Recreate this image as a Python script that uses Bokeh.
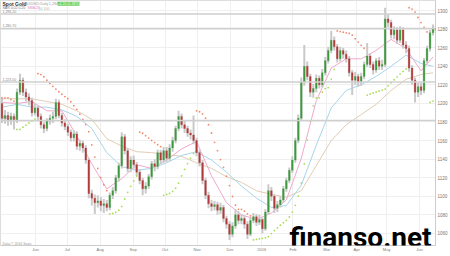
from bokeh.plotting import figure
from bokeh.models import FixedTicker, Label, Span, Range1d
from bokeh.embed import file_html
from bokeh.resources import INLINE

# ---------------- data (Spot Gold, daily, May 2015 - Jun 2016) ----------------
first_open = 1200
closes = [1184, 1187, 1182, 1186, 1182, 1212, 1225, 1212, 1207, 1203,
          1190, 1195, 1186, 1177, 1173, 1181, 1184, 1186, 1201, 1187,
          1179, 1175, 1169, 1163, 1167, 1154, 1157, 1152, 1139, 1103,
          1098, 1093, 1095, 1090, 1092, 1088, 1101, 1106, 1120, 1133,
          1164, 1149, 1130, 1139, 1134, 1126, 1117, 1108, 1111, 1121,
          1135, 1132, 1147, 1139, 1149, 1141, 1152, 1160, 1173, 1186,
          1177, 1173, 1168, 1166, 1160, 1147, 1136, 1117, 1101, 1092,
          1089, 1091, 1085, 1088, 1076, 1070, 1059, 1068, 1080, 1074,
          1076, 1070, 1059, 1074, 1078, 1072, 1075, 1065, 1083, 1106,
          1100, 1087, 1091, 1096, 1108, 1117, 1128, 1139, 1160, 1184,
          1223, 1240, 1229, 1212, 1216, 1227, 1220, 1233, 1246, 1257,
          1268, 1261, 1248, 1257, 1253, 1248, 1233, 1225, 1229, 1223,
          1229, 1242, 1251, 1242, 1236, 1246, 1240, 1242, 1291, 1287,
          1274, 1279, 1268, 1279, 1263, 1259, 1238, 1225, 1212, 1218,
          1214, 1246, 1259, 1276, 1281]
highs = [1206, 1193, 1191, 1190, 1189, 1216, 1232, 1228, 1216, 1211,
         1206, 1200, 1198, 1189, 1180, 1184, 1188, 1191, 1205, 1204,
         1190, 1183, 1178, 1172, 1171, 1170, 1161, 1160, 1155, 1141,
         1107, 1102, 1101, 1099, 1097, 1096, 1104, 1110, 1123, 1136,
         1169, 1167, 1152, 1143, 1144, 1137, 1129, 1120, 1115, 1124,
         1138, 1140, 1150, 1150, 1153, 1153, 1156, 1164, 1176, 1192,
         1189, 1181, 1176, 1172, 1187, 1163, 1150, 1139, 1120, 1105,
         1096, 1095, 1094, 1093, 1091, 1079, 1073, 1072, 1086, 1084,
         1081, 1079, 1073, 1077, 1082, 1081, 1080, 1077, 1086, 1113,
         1110, 1102, 1095, 1100, 1111, 1120, 1131, 1143, 1163, 1188,
         1228, 1263, 1245, 1232, 1221, 1231, 1230, 1237, 1250, 1261,
         1278, 1272, 1264, 1261, 1260, 1257, 1251, 1236, 1234, 1232,
         1233, 1245, 1265, 1254, 1245, 1249, 1250, 1247, 1303, 1296,
         1290, 1283, 1282, 1283, 1282, 1267, 1262, 1241, 1228, 1222,
         1222, 1249, 1262, 1279, 1285]
lows = [1179, 1178, 1176, 1177, 1172, 1179, 1209, 1208, 1202, 1198,
        1186, 1187, 1182, 1173, 1168, 1170, 1177, 1179, 1183, 1184,
        1175, 1171, 1165, 1159, 1159, 1150, 1149, 1147, 1135, 1098,
        1090, 1081, 1088, 1084, 1082, 1084, 1085, 1097, 1103, 1116,
        1130, 1145, 1126, 1126, 1130, 1122, 1113, 1101, 1103, 1108,
        1118, 1127, 1129, 1135, 1136, 1137, 1138, 1148, 1157, 1170,
        1173, 1168, 1164, 1161, 1156, 1143, 1132, 1113, 1097, 1087,
        1084, 1085, 1080, 1081, 1072, 1065, 1053, 1056, 1065, 1070,
        1070, 1065, 1054, 1057, 1071, 1068, 1069, 1060, 1063, 1080,
        1095, 1082, 1083, 1088, 1093, 1105, 1114, 1125, 1136, 1157,
        1181, 1219, 1225, 1207, 1206, 1212, 1216, 1217, 1230, 1243,
        1254, 1257, 1244, 1245, 1248, 1244, 1229, 1209, 1220, 1218,
        1219, 1226, 1239, 1238, 1231, 1233, 1236, 1236, 1239, 1282,
        1270, 1269, 1264, 1265, 1259, 1254, 1234, 1220, 1201, 1207,
        1209, 1211, 1243, 1256, 1273]

ma_idx = [0, 5, 10, 15, 20, 25, 30, 35, 40, 45, 50, 55, 60, 65, 70,
          75, 80, 85, 90, 95, 100, 105, 110, 115, 120, 125, 130, 135, 140, 144]
sma20 = [1201, 1200, 1202, 1192, 1192, 1165, 1135, 1108, 1119, 1134, 1130, 1139, 1151, 1159, 1122,
         1093, 1080, 1075, 1082, 1096, 1141, 1203, 1238, 1248, 1248, 1257, 1269, 1259, 1235, 1250]
sma50 = [1196, 1199, 1196, 1196, 1193, 1186, 1173, 1147, 1132, 1128, 1130, 1136, 1144, 1148, 1139,
         1126, 1111, 1098, 1088, 1090, 1112, 1155, 1195, 1214, 1220, 1229, 1240, 1252, 1243, 1240]
sma100 = [1205, 1205, 1205, 1202, 1199, 1192, 1183, 1162, 1154, 1148, 1147, 1145, 1143, 1136, 1130,
          1121, 1115, 1106, 1102, 1099, 1106, 1133, 1160, 1177, 1188, 1199, 1214, 1226, 1231, 1233]

levels = [1296.2, 1280.7, 1223.0, 1181.6]
level_labels = ["1,296.20", "1,280.70", "1,223.00", "1,181.60"]

price_ticks = [1060, 1080, 1100, 1120, 1140, 1160, 1180, 1200, 1220, 1240, 1260, 1280, 1300]
month_pos = [11.2, 21.8, 32.8, 43.8, 54.5, 65.2, 76.2, 86.8, 97.2, 108.5, 118.5, 128.5, 139.5]
month_labels = ["Jun", "Jul", "Aug", "Sep", "Oct", "Nov", "Dec", "2016", "Feb", "Mar", "Apr", "May", "Jun"]

# ---------------- derived ----------------
n = len(closes)
idx = list(range(n))
opens = [first_open] + closes[:-1]
body_top = [max(o, c) for o, c in zip(opens, closes)]
body_bot = [min(o, c) for o, c in zip(opens, closes)]
body_col = ["#3c9a3c" if c >= o else "#b23b3b" for o, c in zip(opens, closes)]


def parabolic_sar(h, l, step=0.02, amax=0.2):
    out, trend = [h[0]], [False]
    bull, af, ep, s = False, step, l[0], h[0]
    for i in range(1, len(h)):
        s = s + af * (ep - s)
        if bull:
            s = min(s, l[i - 1], l[max(i - 2, 0)])
            if l[i] < s:
                bull, s, ep, af = False, ep, l[i], step
            elif h[i] > ep:
                ep, af = h[i], min(af + step, amax)
        else:
            s = max(s, h[i - 1], h[max(i - 2, 0)])
            if h[i] > s:
                bull, s, ep, af = True, ep, h[i], step
            elif l[i] < ep:
                ep, af = l[i], min(af + step, amax)
        out.append(s)
        trend.append(bull)
    return out, trend


sar, sar_bull = parabolic_sar(highs, lows)

# ---------------- figure ----------------
FW, FH = 436, 245
Y_TOP, Y_BOT = 1310.8, 1047.0

p = figure(width=450, height=256, output_backend="svg", toolbar_location=None,
           x_range=Range1d(-0.5, 144.83), y_range=Range1d(Y_BOT, Y_TOP),
           y_axis_location="right",
           min_border_left=0, min_border_top=0, min_border_right=14, min_border_bottom=11)
p.outline_line_color = "#dddddd"
p.background_fill_color = "white"

p.yaxis.ticker = FixedTicker(ticks=price_ticks)
p.yaxis.major_label_text_font_size = "4.5px"
p.yaxis.major_label_text_color = "#777777"
p.yaxis.major_tick_out = 0
p.yaxis.major_tick_in = 0
p.yaxis.minor_tick_out = 0
p.yaxis.minor_tick_in = 0
p.yaxis.major_label_standoff = 2
p.yaxis.axis_line_color = "#cccccc"

p.xaxis.ticker = FixedTicker(ticks=month_pos)
p.xaxis.major_label_overrides = {m: t for m, t in zip(month_pos, month_labels)}
p.xaxis.major_label_text_font_size = "4px"
p.xaxis.major_label_text_color = "#777777"
p.xaxis.major_tick_out = 0
p.xaxis.major_tick_in = 0
p.xaxis.minor_tick_out = 0
p.xaxis.minor_tick_in = 0
p.xaxis.major_label_standoff = 1
p.xaxis.axis_line_color = "#cccccc"

p.xgrid.ticker = FixedTicker(ticks=month_pos)
p.ygrid.ticker = FixedTicker(ticks=price_ticks)
p.xgrid.grid_line_color = "#efefef"
p.ygrid.grid_line_color = "#efefef"

# level lines
for lv in levels:
    p.add_layout(Span(location=lv, dimension="width", line_color="#cfcfcf", line_width=1.6))

# moving averages
p.line(ma_idx, sma100, line_color="#e0cdb4", line_width=1)
p.line(ma_idx, sma50, line_color="#a6d5ea", line_width=1)
p.line(ma_idx, sma20, line_color="#f0a8cc", line_width=1)

# candles
p.segment(x0=idx, y0=lows, x1=idx, y1=highs, line_color="#c9c9c9", line_width=2)
p.vbar(x=idx, width=0.55, top=body_top, bottom=body_bot, fill_color=body_col, line_color=body_col,
       line_width=0.3)

# parabolic SAR
sx_bull = [i for i in idx if sar_bull[i]]
sx_bear = [i for i in idx if not sar_bull[i]]
p.scatter(sx_bull, [sar[i] for i in sx_bull], size=1.8, marker="circle",
          fill_color="#a8dd55", line_color=None)
p.scatter(sx_bear, [sar[i] for i in sx_bear], size=1.8, marker="circle",
          fill_color="#f38a6c", line_color=None)


def sy(y_px):
    return FH - y_px


def lab(x, y, text, size="4.5px", color="#555555", style="normal", bg=None, font="Liberation Sans",
        baseline="middle", align="left"):
    kw = dict(x=x, y=sy(y), x_units="screen", y_units="screen", text=text, text_font_size=size,
              text_color=color, text_font_style=style, text_baseline=baseline, text_align=align,
              text_font=font)
    if bg:
        kw["background_fill_color"] = bg
    p.add_layout(Label(**kw))


# level labels
for lv, t in zip(levels, level_labels):
    ypx = (Y_TOP - lv) / (Y_TOP - Y_BOT) * FH
    lab(2, ypx - 2.5, t, size="3.5px", color="#888888")

# header
lab(2, 3.2, "Spot Gold", size="5px", color="#333333", style="bold")
lab(21, 3.2, "(XAU/USD)  Daily  1,280.70", size="3.5px", color="#999999")
lab(57, 3.2, "+4.20 (0.33%)", size="3.5px", color="#ffffff", bg="#66cc55")
lab(2, 7.5, "SAR 0.02 0.20", size="3.5px", color="#777777")
lab(27, 7.5, "SMA 20", size="3.5px", color="#e58ab8")
lab(38, 7.5, "50", size="3.5px", color="#7fbcd8")
lab(43, 7.5, "100", size="3.5px", color="#c9ae8a")

# footer texts
lab(2, 243, "Data \u00a9 2016 Saxo", size="3.5px", color="#999999")
lab(2, 253, "Date Range: 15/05/2015 - 14/06/2016   Resolution: Daily", size="3.5px", color="#888888")

# current price box on the axis
lab(FW - 2, 28.5, "1280.70", size="3.5px", color="#333333", bg="#d6d6d6")

# watermark
lab(289, 237, "finanso.net", size="28px", color="#000000", style="bold",
    font="Roboto", baseline="alphabetic")

open("out.html", "w").write(file_html(p, INLINE))
